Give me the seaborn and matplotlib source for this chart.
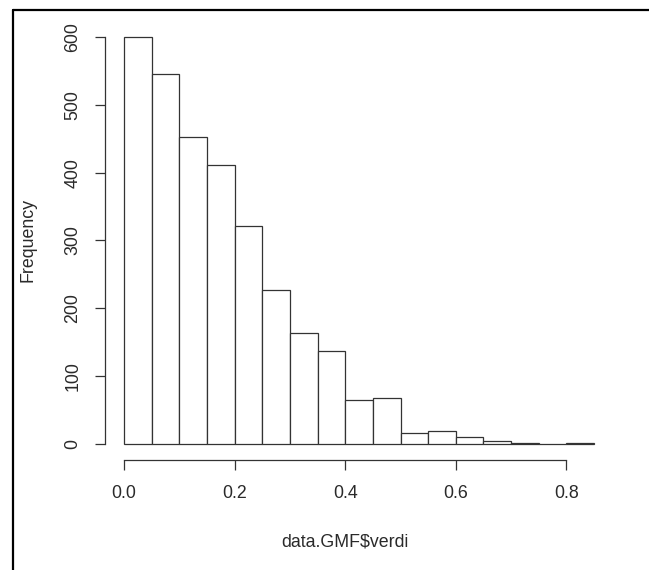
import numpy as np
import seaborn as sns
import matplotlib.pyplot as plt
from matplotlib.lines import Line2D

# histogram of data.GMF$verdi, bins of width 0.05
bin_edges = [0.0, 0.05, 0.10, 0.15, 0.20, 0.25, 0.30, 0.35, 0.40, 0.45,
             0.50, 0.55, 0.60, 0.65, 0.70, 0.75, 0.80, 0.85]
counts = [600, 545, 452, 412, 322, 227, 164, 137, 65, 68,
          16, 19, 10, 4, 2, 0, 2]
x_ticks = [0.0, 0.2, 0.4, 0.6, 0.8]
y_ticks = [0, 100, 200, 300, 400, 500, 600]

sns.set_style('white')
plt.rcParams['font.family'] = ['Liberation Sans', 'DejaVu Sans']

fig = plt.figure(figsize=(6.49, 5.70), dpi=100)
ax = fig.add_axes([0.1621, 0.1925, 0.7823, 0.7712])

mids = [(a + b) / 2 for a, b in zip(bin_edges[:-1], bin_edges[1:])]
sns.histplot(x=mids, weights=counts, bins=bin_edges, ax=ax,
             color='white', edgecolor='#333333', linewidth=0.9, alpha=1)

ax.set_xlim(-0.034, 0.884)
ax.set_ylim(-24, 624)
ax.set_xticks(x_ticks)
ax.set_xticklabels(['0.0', '0.2', '0.4', '0.6', '0.8'])
ax.set_yticks(y_ticks)
ax.set_yticklabels([str(v) for v in y_ticks], rotation=90, va='center')

for s in ['top', 'right']:
    ax.spines[s].set_visible(False)
ax.spines['left'].set_bounds(0, 600)
ax.spines['bottom'].set_bounds(0, 0.8)
for s in ['left', 'bottom']:
    ax.spines[s].set_color('#333333')
    ax.spines[s].set_linewidth(0.9)
ax.tick_params(axis='both', direction='out', length=7, width=0.9,
               color='#333333', labelsize=12.8, labelcolor='#2a2a2a')
ax.tick_params(axis='x', pad=11, bottom=True)
ax.tick_params(axis='y', pad=10, left=True)

ax.set_xlabel(r'data.GMF\$verdi', fontsize=12.8, color='#2a2a2a')
ax.set_ylabel('Frequency', fontsize=12.8, color='#2a2a2a')
ax.xaxis.set_label_coords(0.472, -0.186)
ax.yaxis.label.set_va('center')
ax.xaxis.label.set_va('center')
ax.yaxis.set_label_coords(-0.152, 0.5)

# frame from the screenshot crop (top and left edges only)
fig.add_artist(Line2D([0.0193, 1.0], [0.9833, 0.9833], color='black', lw=1.6,
                      transform=fig.transFigure))
fig.add_artist(Line2D([0.0193, 0.0193], [0.0, 0.9833], color='black', lw=1.6,
                      transform=fig.transFigure))

fig.savefig('out.png', dpi=100)
